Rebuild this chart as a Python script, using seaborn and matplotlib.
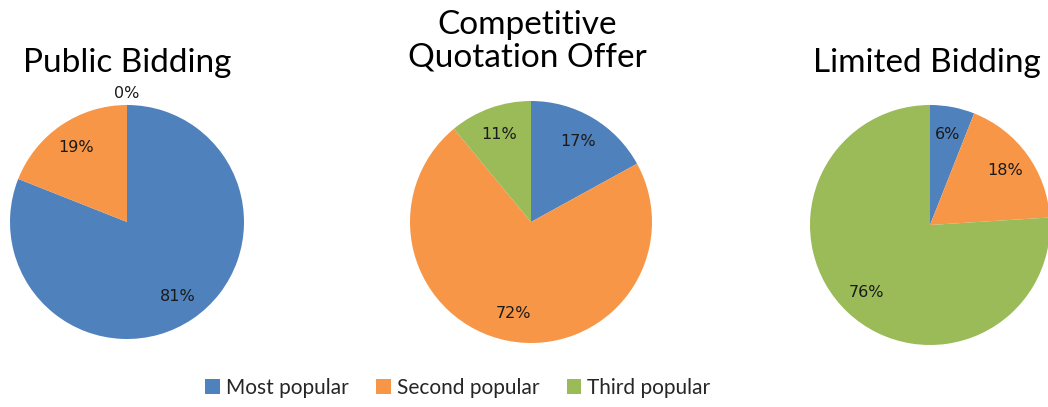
import matplotlib
matplotlib.use("Agg")
import matplotlib.pyplot as plt
import seaborn as sns

# data (percent of respondents)
categories = ["Most popular", "Second popular", "Third popular"]
public_bidding = [81, 19, 0]
competitive_quotation = [17, 72, 11]
limited_bidding = [6, 18, 76]
titles = ["Public Bidding", "Competitive\nQuotation Offer", "Limited Bidding"]

sns.set_theme(style="white")
plt.rcParams["font.family"] = ["Lato", "DejaVu Sans"]
colors = sns.color_palette(["#4F81BD", "#F79646", "#9BBB59"])

W, H = 1048, 407
fig = plt.figure(figsize=(W / 100, H / 100), dpi=100)

# (center x px, center y px from top, radius px, title x px, title y px)
pies = [
    (public_bidding, 127, 222, 117, 127, 63),
    (competitive_quotation, 531, 222, 121, 527, 41),
    (limited_bidding, 930, 225, 120, 927, 63),
]

wedges = None
for (vals, cx, cy, r, tx, ty), title in zip(pies, titles):
    size = 2.5 * r
    ax = fig.add_axes([(cx - size / 2) / W, (H - cy - size / 2) / H, size / W, size / H])
    w, texts, autotexts = ax.pie(
        vals, colors=colors, startangle=90, counterclock=False,
        autopct="%1.0f%%", pctdistance=0.77,
        textprops=dict(fontsize=11.5, family="DejaVu Sans", color="#1a1a1a"),
        wedgeprops=dict(linewidth=0),
    )
    ax.set_xlim(-1.25, 1.25)
    ax.set_ylim(-1.25, 1.25)
    # zero slices get their label pushed just outside the rim
    for v, t in zip(vals, autotexts):
        if v == 0:
            x, y = t.get_position()
            t.set_position((x * 1.43, y * 1.43))
    if wedges is None:
        wedges = w
    fig.text(tx / W, 1 - ty / H, title, ha="center", va="center",
             fontsize=24, linespacing=1.1, color="black")

fig.legend(wedges, categories, loc="center", bbox_to_anchor=(458 / W, 1 - 388 / H),
           ncol=3, frameon=False, fontsize=15, handlelength=0.7, handleheight=0.7,
           handletextpad=0.3, columnspacing=1.3)

fig.savefig("out.png", dpi=100)
